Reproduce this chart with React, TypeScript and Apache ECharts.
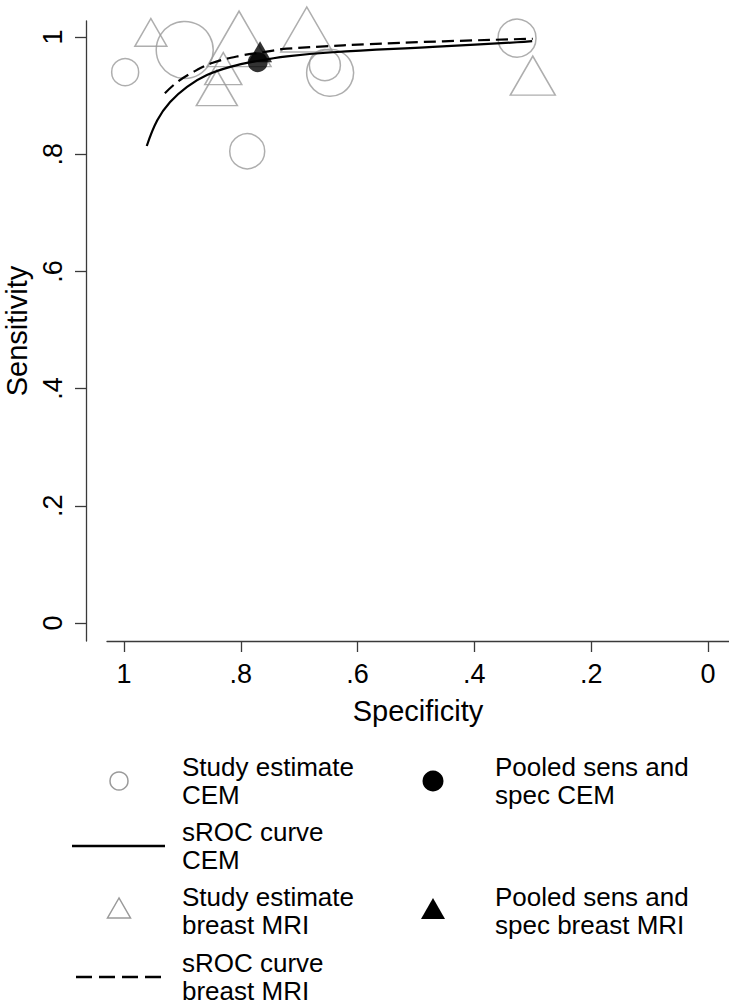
import React, { useEffect, useRef } from "react";
import * as echarts from "echarts";

// ---- data ----
const tickValues = [0, 0.2, 0.4, 0.6, 0.8, 1];

// study estimates, CEM (open grey circles); weight = relative marker size
const cemStudySpec = [0.998, 0.896, 0.789, 0.656, 0.647, 0.327];
const cemStudySens = [0.94, 0.978, 0.805, 0.952, 0.939, 0.998];
const cemStudyWeight = [27, 57, 35, 31, 47, 38];

// study estimates, breast MRI (open grey triangles)
const mriStudySpec = [0.954, 0.803, 0.83, 0.841, 0.687, 0.3];
const mriStudySens = [1.0, 0.981, 0.937, 0.903, 1.0, 0.923];
const mriStudyWeight = [32, 64, 37, 41, 52, 45];

// pooled estimates
const cemPooledSpec = [0.771];
const cemPooledSens = [0.957];
const mriPooledSpec = [0.767];
const mriPooledSens = [0.969];

// sROC curves
const cemCurveSpec = [0.961, 0.943, 0.921, 0.892, 0.858, 0.818, 0.772, 0.721, 0.642, 0.471, 0.327, 0.301];
const cemCurveSens = [0.814, 0.858, 0.889, 0.915, 0.935, 0.949, 0.959, 0.967, 0.974, 0.983, 0.991, 0.993];
const mriCurveSpec = [0.93, 0.909, 0.882, 0.848, 0.801, 0.762, 0.721, 0.527, 0.3];
const mriCurveSens = [0.904, 0.923, 0.94, 0.956, 0.968, 0.974, 0.98, 0.99, 0.997];

const legendLabels = [
  "Study estimate\nCEM",
  "sROC curve\nCEM",
  "Study estimate\nbreast MRI",
  "sROC curve\nbreast MRI",
  "Pooled sens and\nspec CEM",
  "Pooled sens and\nspec breast MRI",
];

const FONT = "'Liberation Sans', Arial, Helvetica, sans-serif";
const GREY = "#9a9a9a";
const AXIS = "#3a3a3a";

const pairs = (xs: number[], ys: number[]) => xs.map((x, i) => [x, ys[i]]);
const fmt = (v: number) => (v === 0 ? "0" : v === 1 ? "1" : String(v).replace(/^0\./, "."));

export default function App() {
  const ref = useRef<HTMLDivElement>(null);
  useEffect(() => {
    if (!ref.current) return;
    const chart = echarts.init(ref.current, undefined, { renderer: "svg" });

    const textStyle = (t: string, x: number, y: number) => ({
      type: "text",
      x,
      y,
      style: {
        text: t,
        font: `26px ${FONT}`,
        fill: "#000",
        lineHeight: 28,
        verticalAlign: "middle",
        align: "left",
      },
    });

    const rowY = [781, 846, 911, 977];
    const c1x = 119;
    const c2x = 433;

    const graphic: any[] = [
      { type: "circle", shape: { cx: c1x, cy: rowY[0], r: 9 }, style: { fill: "none", stroke: GREY, lineWidth: 1.5 } },
      textStyle(legendLabels[0], 182, rowY[0]),
      { type: "line", shape: { x1: 72, y1: rowY[1], x2: 165, y2: rowY[1] }, style: { stroke: "#000", lineWidth: 2.5 } },
      textStyle(legendLabels[1], 182, rowY[1]),
      {
        type: "polygon",
        shape: { points: [[c1x, rowY[2] - 13], [c1x - 11.5, rowY[2] + 7], [c1x + 11.5, rowY[2] + 7]] },
        style: { fill: "none", stroke: GREY, lineWidth: 1.5 },
      },
      textStyle(legendLabels[2], 182, rowY[2]),
      {
        type: "line",
        shape: { x1: 76, y1: rowY[3], x2: 162, y2: rowY[3] },
        style: { stroke: "#000", lineWidth: 2.5, lineDash: [16, 7] },
      },
      textStyle(legendLabels[3], 182, rowY[3]),
      { type: "circle", shape: { cx: c2x, cy: rowY[0], r: 10.5 }, style: { fill: "#000" } },
      textStyle(legendLabels[4], 495, rowY[0]),
      {
        type: "polygon",
        shape: { points: [[c2x, rowY[2] - 13], [c2x - 12, rowY[2] + 8], [c2x + 12, rowY[2] + 8]] },
        style: { fill: "#000" },
      },
      textStyle(legendLabels[5], 495, rowY[2]),
    ];

    const option: any = {
      animation: false,
      backgroundColor: "#fff",
      grid: { left: 107, top: 21, width: 622, height: 620, containLabel: false, outerBoundsMode: "none" },
      xAxis: {
        type: "value",
        inverse: true,
        min: -0.036,
        max: 1.0291,
        axisLine: { show: true, onZero: false, lineStyle: { color: AXIS, width: 1.3 } },
        axisTick: { show: true, length: 11, customValues: tickValues, lineStyle: { color: AXIS, width: 1.3 } },
        axisLabel: {
          customValues: tickValues,
          formatter: fmt,
          fontSize: 27,
          fontFamily: FONT,
          color: "#000",
          margin: 19,
        },
        splitLine: { show: false },
        name: "Specificity",
        nameLocation: "middle",
        nameGap: 55,
        nameTextStyle: { fontSize: 29, fontFamily: FONT, color: "#000" },
      },
      yAxis: {
        type: "value",
        min: -0.0307,
        max: 1.0273,
        offset: 21,
        axisLine: { show: true, onZero: false, lineStyle: { color: AXIS, width: 1.3 } },
        axisTick: { show: true, length: 11, customValues: tickValues, lineStyle: { color: AXIS, width: 1.3 } },
        axisLabel: {
          customValues: tickValues,
          formatter: fmt,
          rotate: 90,
          fontSize: 27,
          fontFamily: FONT,
          color: "#000",
          margin: 20,
        },
        splitLine: { show: false },
        name: "Sensitivity",
        nameLocation: "middle",
        nameRotate: 90,
        nameGap: 55,
        nameTextStyle: { fontSize: 29, fontFamily: FONT, color: "#000" },
      },
      series: [
        {
          name: "Study estimate CEM",
          type: "scatter",
          data: cemStudySpec.map((x, i) => ({ value: [x, cemStudySens[i]], symbolSize: cemStudyWeight[i] })),
          symbol: "circle",
          itemStyle: { color: "transparent", borderColor: GREY, borderWidth: 1.5 },
          z: 2,
        },
        {
          name: "Study estimate breast MRI",
          type: "scatter",
          data: mriStudySpec.map((x, i) => ({
            value: [x, mriStudySens[i]],
            symbolSize: [mriStudyWeight[i], mriStudyWeight[i] * 0.866],
          })),
          symbol: "triangle",
          symbolOffset: [0, "-16.67%"],
          itemStyle: { color: "transparent", borderColor: GREY, borderWidth: 1.5 },
          z: 2,
        },
        {
          name: "sROC curve CEM",
          type: "line",
          data: pairs(cemCurveSpec, cemCurveSens),
          smooth: 0.4,
          showSymbol: false,
          lineStyle: { color: "#000", width: 2.2 },
          z: 3,
        },
        {
          name: "sROC curve breast MRI",
          type: "line",
          data: pairs(mriCurveSpec, mriCurveSens),
          smooth: 0.4,
          showSymbol: false,
          lineStyle: { color: "#000", width: 2.2, type: [12, 6] },
          z: 3,
        },
        {
          name: "Pooled sens and spec CEM",
          type: "scatter",
          data: pairs(cemPooledSpec, cemPooledSens),
          symbol: "circle",
          symbolSize: 20,
          itemStyle: { color: "#000" },
          z: 4,
        },
        {
          name: "Pooled sens and spec breast MRI",
          type: "scatter",
          data: pairs(mriPooledSpec, mriPooledSens),
          symbol: "triangle",
          symbolSize: [24, 21],
          symbolOffset: [0, "-16.67%"],
          itemStyle: { color: "#000" },
          z: 5,
        },
      ],
      graphic,
    };
    chart.setOption(option);
    return () => chart.dispose();
  }, []);

  return <div ref={ref} style={{ position: "fixed", left: 0, top: 0, width: 729, height: 1008, background: "#fff" }} />;
}
